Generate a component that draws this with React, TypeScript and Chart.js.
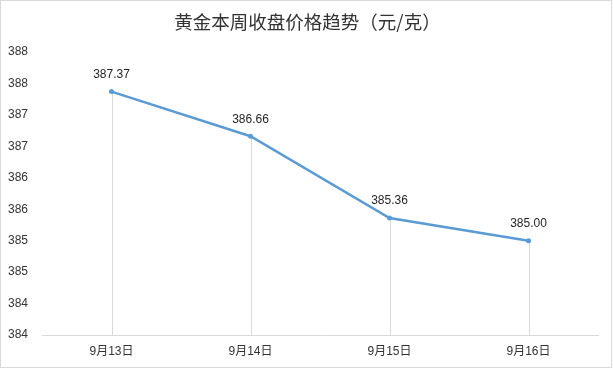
import React, { useEffect, useRef } from "react";
import { Chart, registerables } from "chart.js";

Chart.register(...registerables);

const categories = ["9月13日", "9月14日", "9月15日", "9月16日"];
const prices = [387.37, 386.66, 385.36, 385.0];
const yMin = 383.5;
const yMax = 388;
const yStep = 0.5;
const titleText = "黄金本周收盘价格趋势（元/克）";

const FONT = '"Liberation Sans", "Noto Sans CJK SC", sans-serif';

const decorPlugin = {
  id: "decor",
  beforeDraw(chart: any) {
    const { ctx, width, height } = chart;
    ctx.save();
    ctx.fillStyle = "#ffffff";
    ctx.fillRect(0, 0, width, height);
    ctx.strokeStyle = "#d9d9d9";
    ctx.lineWidth = 1;
    ctx.strokeRect(0.5, 0.5, width - 2, height - 2);
    ctx.restore();
  },
  beforeDatasetsDraw(chart: any) {
    const { ctx, chartArea } = chart;
    const meta = chart.getDatasetMeta(0);
    ctx.save();
    ctx.strokeStyle = "#d9d9d9";
    ctx.lineWidth = 1;
    meta.data.forEach((pt: any) => {
      const x = Math.round(pt.x) + 0.5;
      ctx.beginPath();
      ctx.moveTo(x, pt.y);
      ctx.lineTo(x, chartArea.bottom);
      ctx.stroke();
    });
    ctx.restore();
  },
  afterDatasetsDraw(chart: any) {
    const { ctx } = chart;
    const meta = chart.getDatasetMeta(0);
    const data = chart.data.datasets[0].data;
    ctx.save();
    ctx.fillStyle = "#262626";
    ctx.font = `12px ${FONT}`;
    ctx.textAlign = "center";
    ctx.textBaseline = "middle";
    meta.data.forEach((pt: any, i: number) => {
      ctx.fillText(Number(data[i]).toFixed(2), pt.x, pt.y - 17);
    });
    ctx.restore();
  },
  afterDraw(chart: any) {
    const { ctx, width } = chart;
    ctx.save();
    ctx.fillStyle = "#333333";
    ctx.font = `18.5px "Noto Sans CJK SC", sans-serif`;
    ctx.textAlign = "center";
    ctx.textBaseline = "middle";
    ctx.fillText(titleText, width / 2 + 1, 22);
    ctx.restore();
  },
};

export default function App() {
  const ref = useRef<HTMLCanvasElement | null>(null);

  useEffect(() => {
    if (!ref.current) return;
    const chart = new Chart(ref.current, {
      type: "line",
      data: {
        labels: categories,
        datasets: [
          {
            data: prices,
            borderColor: "#5b9bd5",
            backgroundColor: "#5b9bd5",
            borderWidth: 2.5,
            pointRadius: 2.5,
            pointHoverRadius: 2.5,
            pointBorderWidth: 0,
            tension: 0,
          },
        ],
      },
      options: {
        responsive: false,
        animation: false,
        events: [],
        layout: { padding: { top: 52, left: 0, right: 15, bottom: 0 } },
        plugins: {
          legend: { display: false },
          title: { display: false },
          tooltip: { enabled: false },
        },
        scales: {
          x: {
            offset: true,
            grid: { display: false, drawTicks: false },
            border: { display: true, color: "#d9d9d9", width: 1 },
            ticks: {
              color: "#333333",
              font: { family: FONT, size: 12 },
              padding: 9,
              maxRotation: 0,
            },
            afterFit(scale: any) {
              scale.height = 34;
            },
          },
          y: {
            min: yMin,
            max: yMax,
            grid: { display: false, drawTicks: false },
            border: { display: false },
            ticks: {
              stepSize: yStep,
              color: "#333333",
              font: { family: FONT, size: 12 },
              padding: 14,
              callback: (v: any) => String(Math.round(Number(v))),
            },
            afterFit(scale: any) {
              scale.width = 42;
            },
          },
        },
      },
      plugins: [decorPlugin],
    });
    return () => chart.destroy();
  }, []);

  return (
    <div style={{ position: "absolute", left: 0, top: 0, width: 613, height: 369 }}>
      <canvas ref={ref} width={613} height={369} style={{ display: "block" }} />
    </div>
  );
}
